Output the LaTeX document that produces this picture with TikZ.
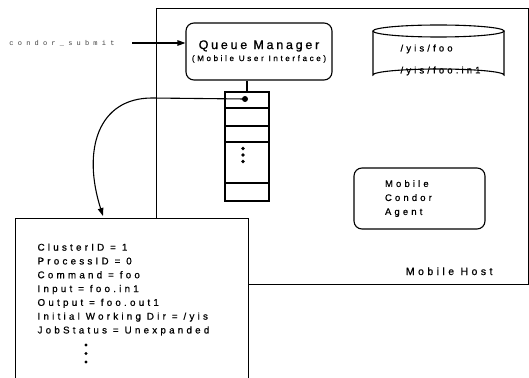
\documentclass[tikz,border=0pt]{standalone}
\usepackage{fontspec}
\setmainfont{Liberation Sans}
\newfontfamily\qmfont[LetterSpace=22,FakeBold=0.8]{Liberation Sans}
\newfontfamily\spfont[LetterSpace=33,FakeBold=0.8]{Liberation Sans}
\newfontfamily\ttspfont[LetterSpace=60]{Liberation Mono}
\usepackage{tikz}
\usetikzlibrary{arrows.meta,positioning,calc}
\tikzset{
  >={Triangle[length=8pt,width=5.5pt]},
  box/.style={draw, rounded corners=8pt},
  cell/.style={draw, minimum width=44pt, inner sep=0pt, outer sep=0pt},
  txt/.style={font=\spfont\fontsize{9.8}{13.8}\selectfont, align=left, inner sep=0pt},
}

\begin{document}
\begin{tikzpicture}[x=1pt, y=-1pt, line width=1.1pt]
  \useasboundingbox (0,0) rectangle (529,377);

  % mobile host
  \node[draw, anchor=north west, minimum width=372pt, minimum height=276pt, inner sep=0pt] (host) at (156,8) {};
  \node[font=\spfont\fontsize{10.5}{12}\selectfont, anchor=base west] (hostlbl) at (402,275) {Mobile Host};

  % queue manager
  \node[box, minimum width=146pt, minimum height=57pt, align=center] (qm) at (259,51.5)
    {{\qmfont\fontsize{12.5}{19}\selectfont Queue Manager}\\{\spfont\fontsize{8}{10}\selectfont (Mobile User Interface)}};
  \node[font=\ttspfont\fontsize{7}{8}\selectfont, text=black!75] (sub) at (62,43) {condor\_submit};
  \draw[->, shorten <=14pt] (sub.east) -- (sub.east -| qm.west);

  % file store
  \draw (373,31) -- (373,75) arc[start angle=180, end angle=360, x radius=65.5, y radius=6] -- (504,31);
  \draw (438.5,31) ellipse[x radius=65.5, y radius=6];
  \node[txt, anchor=north west, font=\spfont\fontsize{9.5}{22}\selectfont] (db) at (400,44) {/yis/foo\\/yis/foo.in1};

  % job queue
  \node[cell, minimum height=16pt, anchor=north west] (q1) at (225,92) {};
  \node[cell, minimum height=18pt, below=0pt of q1] (q2) {};
  \node[cell, minimum height=16pt, below=0pt of q2] (q3) {};
  \node[cell, minimum height=41pt, below=0pt of q3] (q4) {};
  \node[cell, minimum height=18pt, below=0pt of q4] (q5) {};
  \foreach \d in {6.5,13,19.5}
    \fill ($(q4.north)+(-4,\d)$) circle (1.8pt);
  \draw (q1.north) -- (q1.north |- qm.south);
  \node[circle, fill, inner sep=0pt, minimum size=6pt] (ptr) at (245,99) {};

  % agent
  \node[box, minimum width=131pt, minimum height=61pt, text width=69pt, align=left,
        font=\spfont\fontsize{9.5}{14}\selectfont] (agent) at (419.5,198.5) {Mobile\\Condor\\Agent};

  % job classad
  \node[draw, fill=white, anchor=north west, minimum width=233pt, minimum height=175pt, inner sep=0pt] (job) at (15,218) {};
  \node[txt, anchor=north west] (jobtxt) at ($(job.north west)+(22,25)$)
    {ClusterID = 1\\ProcessID = 0\\Command = foo\\Input = foo.in1\\Output = foo.out1\\Initial Working Dir = /yis\\JobStatus = Unexpanded};
  \foreach \d in {9,17.5,26}
    \fill ($(jobtxt.south west)+(49,\d)$) circle (1.6pt);

  \coordinate (jobin) at (103,216);
  \draw[->] (ptr.center) -- (152,98) .. controls (98,98) and (82,150) .. (jobin);
\end{tikzpicture}
\end{document}
